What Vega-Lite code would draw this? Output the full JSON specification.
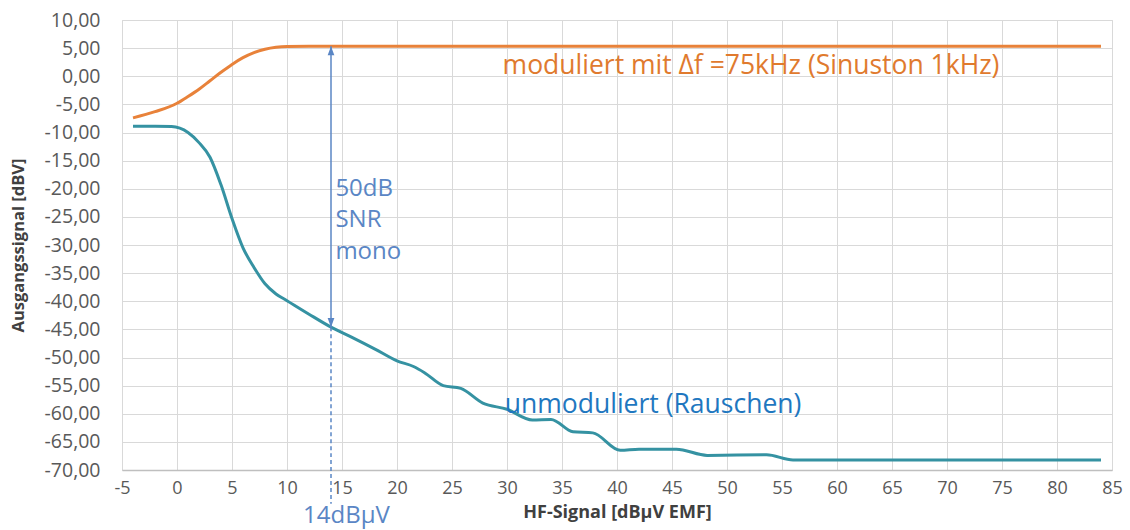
{
  "$schema": "https://vega.github.io/schema/vega-lite/v6.json",
  "width": 990,
  "height": 450,
  "autosize": {"type": "none"},
  "padding": {"left": 122, "top": 20, "right": 18, "bottom": 60},
  "background": "white",
  "config": {
    "font": "Open Sans",
    "locale": {"number": {"decimal": ",", "thousands": ".", "grouping": [3], "currency": ["", " €"], "minus": "-"}},
    "view": {"stroke": "#D9D9D9"}
  },
  "datasets": {
    "curves": [
      {"s": "moduliert", "x": -4, "y": -7.4},
      {"s": "moduliert", "x": -2, "y": -6.3},
      {"s": "moduliert", "x": 0, "y": -4.8},
      {"s": "moduliert", "x": 1, "y": -3.6},
      {"s": "moduliert", "x": 2, "y": -2.3},
      {"s": "moduliert", "x": 3, "y": -0.8},
      {"s": "moduliert", "x": 4, "y": 0.7},
      {"s": "moduliert", "x": 5, "y": 2.1},
      {"s": "moduliert", "x": 6, "y": 3.3},
      {"s": "moduliert", "x": 7, "y": 4.2},
      {"s": "moduliert", "x": 8, "y": 4.8},
      {"s": "moduliert", "x": 9, "y": 5.15},
      {"s": "moduliert", "x": 10, "y": 5.3},
      {"s": "moduliert", "x": 12, "y": 5.35},
      {"s": "moduliert", "x": 84, "y": 5.35},
      {"s": "unmoduliert", "x": -4, "y": -8.9},
      {"s": "unmoduliert", "x": -2, "y": -8.9},
      {"s": "unmoduliert", "x": -0.5, "y": -8.95},
      {"s": "unmoduliert", "x": 1, "y": -10.0},
      {"s": "unmoduliert", "x": 2, "y": -11.8},
      {"s": "unmoduliert", "x": 3, "y": -14.4},
      {"s": "unmoduliert", "x": 4, "y": -19.3},
      {"s": "unmoduliert", "x": 5, "y": -25.3},
      {"s": "unmoduliert", "x": 6, "y": -30.5},
      {"s": "unmoduliert", "x": 7, "y": -34.0},
      {"s": "unmoduliert", "x": 8, "y": -36.9},
      {"s": "unmoduliert", "x": 9, "y": -38.7},
      {"s": "unmoduliert", "x": 10, "y": -39.9},
      {"s": "unmoduliert", "x": 12, "y": -42.3},
      {"s": "unmoduliert", "x": 14, "y": -44.6},
      {"s": "unmoduliert", "x": 16, "y": -46.5},
      {"s": "unmoduliert", "x": 18, "y": -48.5},
      {"s": "unmoduliert", "x": 20, "y": -50.6},
      {"s": "unmoduliert", "x": 21.5, "y": -51.6},
      {"s": "unmoduliert", "x": 22.5, "y": -52.7},
      {"s": "unmoduliert", "x": 24.2, "y": -55.0},
      {"s": "unmoduliert", "x": 25.8, "y": -55.5},
      {"s": "unmoduliert", "x": 27.8, "y": -58.1},
      {"s": "unmoduliert", "x": 30, "y": -59.2},
      {"s": "unmoduliert", "x": 32.3, "y": -61.1},
      {"s": "unmoduliert", "x": 34, "y": -61.0},
      {"s": "unmoduliert", "x": 36, "y": -63.2},
      {"s": "unmoduliert", "x": 37.8, "y": -63.4},
      {"s": "unmoduliert", "x": 40.3, "y": -66.5},
      {"s": "unmoduliert", "x": 42, "y": -66.3},
      {"s": "unmoduliert", "x": 45.4, "y": -66.3},
      {"s": "unmoduliert", "x": 48.2, "y": -67.4},
      {"s": "unmoduliert", "x": 53.6, "y": -67.3},
      {"s": "unmoduliert", "x": 56, "y": -68.2},
      {"s": "unmoduliert", "x": 60, "y": -68.2},
      {"s": "unmoduliert", "x": 84, "y": -68.2}
    ],
    "arrow": [{"x": 14, "y": 5.35, "y2": -44.6}],
    "dash": [{"x": 14, "y": -44.6, "y2": -76.0}],
    "heads": [
      {"x": 14, "y": 5.35, "dir": "up"},
      {"x": 14, "y": -44.6, "dir": "down"}
    ],
    "notes": [
      {"g": "orange", "x": 29.6, "y": 1.8, "label": "moduliert mit Δf =75kHz (Sinuston 1kHz)"},
      {"g": "teal", "x": 29.8, "y": -58.4, "label": "unmoduliert (Rauschen)"},
      {"g": "blue", "x": 14.4, "y": -20.0, "label": "50dB"},
      {"g": "blue", "x": 14.4, "y": -25.6, "label": "SNR"},
      {"g": "blue", "x": 14.4, "y": -31.2, "label": "mono"}
    ],
    "xnote": [{"x": 15.4, "y": -78.1, "label": "14dBµV"}]
  },
  "encoding": {
    "x": {
      "field": "x", "type": "quantitative",
      "scale": {"domain": [-5, 85], "nice": false, "zero": false},
      "axis": {
        "values": [-5, 0, 5, 10, 15, 20, 25, 30, 35, 40, 45, 50, 55, 60, 65, 70, 75, 80, 85],
        "format": "d",
        "title": "HF-Signal [dBµV EMF]",
        "titleFontSize": 18, "titleFontWeight": "bold", "titleColor": "#404040", "titlePadding": 6,
        "labelFontSize": 18, "labelColor": "#595959", "labelPadding": 9, "labelFlush": false,
        "ticks": false, "grid": true, "gridColor": "#D9D9D9",
        "domainColor": "#BFBFBF", "domainWidth": 1.5
      }
    },
    "y": {
      "field": "y", "type": "quantitative",
      "scale": {"domain": [-70, 10], "nice": false, "zero": false},
      "axis": {
        "values": [-70, -65, -60, -55, -50, -45, -40, -35, -30, -25, -20, -15, -10, -5, 0, 5, 10],
        "format": ".2f",
        "title": "Ausgangssignal [dBV]",
        "titleFontSize": 16.5, "titleFontWeight": "bold", "titleColor": "#404040", "titlePadding": 18,
        "labelFontSize": 19.5, "labelColor": "#595959", "labelPadding": 22,
        "ticks": false, "grid": true, "gridColor": "#D9D9D9", "domain": false
      }
    }
  },
  "layer": [
    {
      "data": {"name": "curves"},
      "mark": {"type": "line", "interpolate": "monotone", "strokeWidth": 3},
      "encoding": {
        "color": {
          "field": "s", "type": "nominal",
          "scale": {"domain": ["moduliert", "unmoduliert"], "range": ["#E8823A", "#3592A2"]},
          "legend": null
        }
      }
    },
    {
      "data": {"name": "arrow"},
      "mark": {"type": "rule", "color": "#5A86C5", "strokeWidth": 1.5},
      "encoding": {"y2": {"field": "y2"}}
    },
    {
      "data": {"name": "dash"},
      "mark": {"type": "rule", "color": "#5A86C5", "strokeWidth": 1.5, "strokeDash": [4, 3]},
      "encoding": {"y2": {"field": "y2"}}
    },
    {
      "data": {"name": "heads"},
      "mark": {"type": "point", "filled": true, "size": 150, "color": "#5A86C5", "opacity": 1},
      "encoding": {
        "shape": {
          "field": "dir", "type": "nominal",
          "scale": {"domain": ["up", "down"], "range": ["M0,0L-0.55,1.5L0.55,1.5Z", "M0,0L-0.55,-1.5L0.55,-1.5Z"]},
          "legend": null
        }
      }
    },
    {
      "data": {"name": "notes"},
      "transform": [{"filter": "datum.g === 'orange'"}],
      "mark": {"type": "text", "align": "left", "baseline": "middle", "fontSize": 26.5, "color": "#E07A2E"},
      "encoding": {"text": {"field": "label"}}
    },
    {
      "data": {"name": "notes"},
      "transform": [{"filter": "datum.g === 'teal'"}],
      "mark": {"type": "text", "align": "left", "baseline": "middle", "fontSize": 26.5, "color": "#1F77C0"},
      "encoding": {"text": {"field": "label"}}
    },
    {
      "data": {"name": "notes"},
      "transform": [{"filter": "datum.g === 'blue'"}],
      "mark": {"type": "text", "align": "left", "baseline": "middle", "fontSize": 24, "color": "#5A86C5"},
      "encoding": {"text": {"field": "label"}}
    },
    {
      "data": {"name": "xnote"},
      "mark": {"type": "text", "align": "center", "baseline": "middle", "fontSize": 24, "color": "#5A86C5"},
      "encoding": {"text": {"field": "label"}}
    }
  ]
}
